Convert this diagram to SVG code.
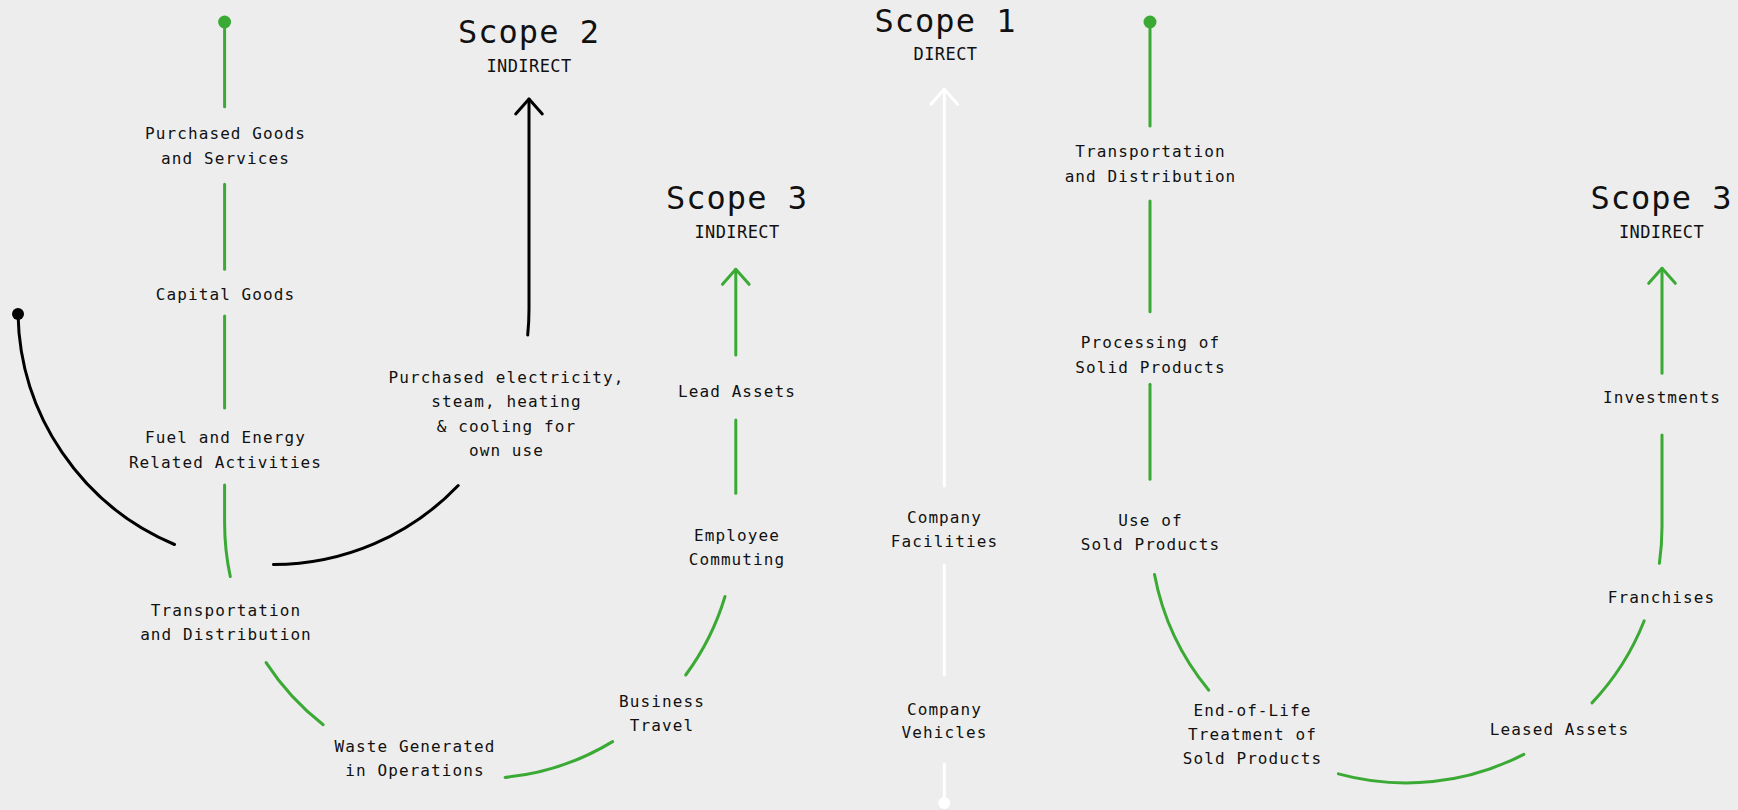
<svg xmlns="http://www.w3.org/2000/svg" width="1738" height="810" viewBox="0 0 1738 810">
<style>
.lbl{font-family:"DejaVu Sans Mono","Liberation Mono",monospace;font-size:16px;letter-spacing:1.1px;fill:#111;text-anchor:middle}
.ttl{font-family:"DejaVu Sans Mono","Liberation Mono",monospace;font-size:32px;letter-spacing:1px;fill:#111;text-anchor:middle}
.sub{font-family:"DejaVu Sans Mono","Liberation Mono",monospace;font-size:17px;letter-spacing:0.4px;fill:#111;text-anchor:middle}
.g{fill:none;stroke:#3aaa35;stroke-width:3;stroke-linecap:round}
.k{fill:none;stroke:#000;stroke-width:3;stroke-linecap:round}
.w{fill:none;stroke:#fff;stroke-width:3;stroke-linecap:round}
</style>
<defs>
<marker id="ah-g" markerUnits="userSpaceOnUse" markerWidth="40" markerHeight="40" refX="0" refY="0" orient="auto" overflow="visible"><path d="M-15,-13.3 L0,0 L-15,13.3" fill="none" stroke="#3aaa35" stroke-width="3" stroke-linecap="round" stroke-linejoin="round"/></marker>
<marker id="ah-k" markerUnits="userSpaceOnUse" markerWidth="40" markerHeight="40" refX="0" refY="0" orient="auto" overflow="visible"><path d="M-15,-13.3 L0,0 L-15,13.3" fill="none" stroke="#000" stroke-width="3" stroke-linecap="round" stroke-linejoin="round"/></marker>
<marker id="ah-w" markerUnits="userSpaceOnUse" markerWidth="40" markerHeight="40" refX="0" refY="0" orient="auto" overflow="visible"><path d="M-15,-13.3 L0,0 L-15,13.3" fill="none" stroke="#fff" stroke-width="3" stroke-linecap="round" stroke-linejoin="round"/></marker>
</defs>
<rect width="1738" height="810" fill="#ededed"/>

<g id="connectors">
  <!-- left green loop -->
  <circle cx="224.6" cy="22" r="6.5" fill="#3aaa35"/>
  <path class="g" d="M224.6 22 L224.6 106.7"/>
  <path class="g" d="M224.6 184.3 L224.6 269.3"/>
  <path class="g" d="M224.6 316 L224.6 408"/>
  <path class="g" d="M224.6 485 L224.6 523 A255.6 255.6 0 0 0 230.3 576.6"/>
  <path class="g" d="M266.1 662.6 A255.6 255.6 0 0 0 323.2 724.7"/>
  <path class="g" d="M505.1 777.4 A255.6 255.6 0 0 0 612.6 741.6"/>
  <path class="g" d="M685.7 675 A255.6 255.6 0 0 0 725 596.5"/>
  <path class="g" d="M735.8 493.3 L735.8 420"/>
  <path class="g" d="M735.8 355 L735.8 269.3" marker-end="url(#ah-g)"/>
  <!-- black scope 2 loop -->
  <circle cx="18" cy="314" r="6" fill="#000"/>
  <path class="k" d="M18 314 A255.5 255.5 0 0 0 174.5 544.5"/>
  <path class="k" d="M273.5 564.5 A255.5 255.5 0 0 0 458.2 485.5"/>
  <path class="k" d="M527.7 335 A255.5 255.5 0 0 0 529 309 L529 99" marker-end="url(#ah-k)"/>
  <!-- white scope 1 line -->
  <circle cx="944.3" cy="803" r="6" fill="#fff"/>
  <path class="w" d="M944.3 803 L944.3 764.3"/>
  <path class="w" d="M944.3 675 L944.3 565"/>
  <path class="w" d="M944.3 486 L944.3 89.3" marker-end="url(#ah-w)"/>
  <!-- right green loop -->
  <circle cx="1150" cy="22" r="6.5" fill="#3aaa35"/>
  <path class="g" d="M1150 22 L1150 126"/>
  <path class="g" d="M1150 201 L1150 311.7"/>
  <path class="g" d="M1150 384.3 L1150 479.3"/>
  <path class="g" d="M1154.5 574.5 A256 256 0 0 0 1208.8 690.2"/>
  <path class="g" d="M1338.4 773.9 A256 256 0 0 0 1523.8 754.3"/>
  <path class="g" d="M1592 702.9 A256 256 0 0 0 1644.2 620.8"/>
  <path class="g" d="M1659.4 563.3 A256 256 0 0 0 1662 527 L1662 435"/>
  <path class="g" d="M1662 373.3 L1662 268.3" marker-end="url(#ah-g)"/>
</g>

<g id="scope2-title"><text class="ttl" x="529" y="43">Scope 2</text><text class="sub" x="529" y="72.3">INDIRECT</text></g>
<g id="scope3-left-title"><text class="ttl" x="737" y="209">Scope 3</text><text class="sub" x="737" y="238.3">INDIRECT</text></g>
<g id="scope1-title"><text class="ttl" x="945.5" y="32.3">Scope 1</text><text class="sub" x="945.5" y="60">DIRECT</text></g>
<g id="scope3-right-title"><text class="ttl" x="1661.5" y="209">Scope 3</text><text class="sub" x="1661.5" y="238.3">INDIRECT</text></g>

<g id="purchased-goods"><text class="lbl" x="225.5" y="139">Purchased Goods</text><text class="lbl" x="225.5" y="164">and Services</text></g>
<g id="capital-goods"><text class="lbl" x="225.5" y="300">Capital Goods</text></g>
<g id="fuel-energy"><text class="lbl" x="225.5" y="442.7">Fuel and Energy</text><text class="lbl" x="225.5" y="467.7">Related Activities</text></g>
<g id="transport-up"><text class="lbl" x="226" y="616">Transportation</text><text class="lbl" x="226" y="640">and Distribution</text></g>
<g id="waste"><text class="lbl" x="415" y="751.7">Waste Generated</text><text class="lbl" x="415" y="776">in Operations</text></g>
<g id="business-travel"><text class="lbl" x="662" y="706.7">Business</text><text class="lbl" x="662" y="730.7">Travel</text></g>
<g id="employee-commuting"><text class="lbl" x="737" y="540.7">Employee</text><text class="lbl" x="737" y="565">Commuting</text></g>
<g id="lead-assets"><text class="lbl" x="737" y="396.7">Lead Assets</text></g>
<g id="purchased-electricity"><text class="lbl" x="506.5" y="382.7">Purchased electricity,</text><text class="lbl" x="506.5" y="406.7">steam, heating</text><text class="lbl" x="506.5" y="431.7">&amp; cooling for</text><text class="lbl" x="506.5" y="456">own use</text></g>
<g id="company-facilities"><text class="lbl" x="944.5" y="523.3">Company</text><text class="lbl" x="944.5" y="546.7">Facilities</text></g>
<g id="company-vehicles"><text class="lbl" x="944.5" y="715">Company</text><text class="lbl" x="944.5" y="738.3">Vehicles</text></g>
<g id="transport-down"><text class="lbl" x="1150.5" y="156.7">Transportation</text><text class="lbl" x="1150.5" y="181.7">and Distribution</text></g>
<g id="processing"><text class="lbl" x="1150.5" y="347.7">Processing of</text><text class="lbl" x="1150.5" y="372.7">Solid Products</text></g>
<g id="use-of-sold"><text class="lbl" x="1150.5" y="526">Use of</text><text class="lbl" x="1150.5" y="550">Sold Products</text></g>
<g id="end-of-life"><text class="lbl" x="1252.5" y="715.7">End-of-Life</text><text class="lbl" x="1252.5" y="740">Treatment of</text><text class="lbl" x="1252.5" y="764">Sold Products</text></g>
<g id="leased-assets"><text class="lbl" x="1559.5" y="735">Leased Assets</text></g>
<g id="franchises"><text class="lbl" x="1661.5" y="602.7">Franchises</text></g>
<g id="investments"><text class="lbl" x="1662" y="402.7">Investments</text></g>
</svg>
